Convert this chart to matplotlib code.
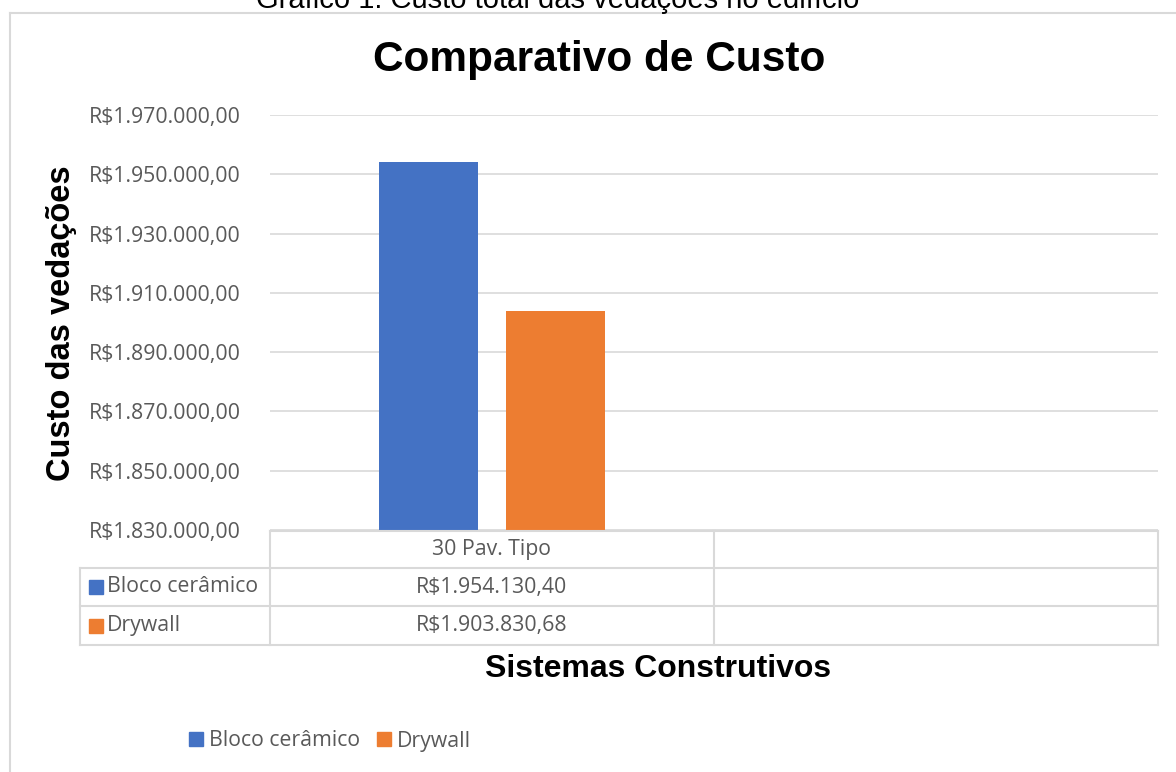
import matplotlib
matplotlib.use("Agg")
import matplotlib.pyplot as plt
from matplotlib.lines import Line2D
from matplotlib.patches import Rectangle
from matplotlib.transforms import blended_transform_factory

# --- data ---
categories = ["30 Pav. Tipo", ""]
series_names = ["Bloco cerâmico", "Drywall"]
bloco_ceramico = [1954130.40, None]
drywall = [1903830.68, None]
series_values = [bloco_ceramico, drywall]
series_colors = ["#4472C4", "#ED7D31"]
y_ticks = [1830000, 1850000, 1870000, 1890000, 1910000, 1930000, 1950000, 1970000]

caption = "Gráfico 1: Custo total das vedações no edifício"
title = "Comparativo de Custo"
x_title = "Sistemas Construtivos"
y_title = "Custo das vedações"


def brl(v):
    s = f"{v:,.2f}"
    s = s.replace(",", "#").replace(".", ",").replace("#", ".")
    return "R$" + s


W, H = 1176, 772
fig = plt.figure(figsize=(W / 100, H / 100), dpi=100)
fig.patch.set_facecolor("white")

TXT = "#595959"
GRID = "#D9D9D9"
LAB_FONT = ["Open Sans", "DejaVu Sans"]
HEAD_FONT = ["Liberation Sans", "DejaVu Sans"]
LAB_SIZE = 15.3


def fx(px):
    return px / W


def fy(py):
    return 1 - py / H


# plot area
left, right, top, bottom = 270, 1158, 115, 530
ax = fig.add_axes([fx(left), fy(bottom), fx(right - left), (bottom - top) / H])
ax.set_facecolor("white")

n_cat = len(categories)
bar_w = 0.225
offsets = [-0.143, 0.143]
for vals, off, col in zip(series_values, offsets, series_colors):
    xs = [i + off for i, v in enumerate(vals) if v is not None]
    hs = [v for v in vals if v is not None]
    ax.bar(xs, hs, width=bar_w, color=col, zorder=3)

ax.set_xlim(-0.5, n_cat - 0.5)
ax.set_ylim(y_ticks[0], y_ticks[-1])
ax.set_yticks(y_ticks)
ax.set_yticklabels([brl(t) for t in y_ticks], family=LAB_FONT, fontsize=LAB_SIZE, color=TXT)
ax.tick_params(axis="y", length=0, pad=21)
ax.set_xticks([])
ax.grid(axis="y", color=GRID, lw=1.2, zorder=0)
for s in ax.spines.values():
    s.set_visible(False)

# data table under the plot
tr = blended_transform_factory(ax.transData, fig.transFigure)
row_y = [531, 568, 606, 645]
tbl_left = 80
lw = 1.5
# horizontal rules
fig.add_artist(Line2D([fx(left), fx(right)], [fy(row_y[0])] * 2, color=GRID, lw=lw))
for yy in row_y[1:]:
    fig.add_artist(Line2D([fx(tbl_left), fx(right)], [fy(yy)] * 2, color=GRID, lw=lw))
# vertical rules
fig.add_artist(Line2D([fx(tbl_left)] * 2, [fy(row_y[1]), fy(row_y[3])], color=GRID, lw=lw))
for b in range(n_cat + 1):
    xb = b - 0.5
    fig.add_artist(Line2D([xb, xb], [fy(row_y[0]), fy(row_y[3])], color=GRID, lw=lw,
                          transform=tr, clip_on=False))

# header row
for i, c in enumerate(categories):
    fig.text(i, fy((row_y[0] + row_y[1]) / 2), c, transform=tr, ha="center", va="center",
             family=LAB_FONT, fontsize=LAB_SIZE, color=TXT)
# series rows
sq = 14
for r, (name, vals, col) in enumerate(zip(series_names, series_values, series_colors)):
    yc = (row_y[r + 1] + row_y[r + 2]) / 2
    fig.add_artist(Rectangle((fx(89), fy(yc + sq / 2)), fx(sq), sq / H, color=col))
    fig.text(fx(107), fy(yc), name, ha="left", va="center",
             family=LAB_FONT, fontsize=LAB_SIZE, color=TXT)
    for i, v in enumerate(vals):
        if v is not None:
            fig.text(i, fy(yc), brl(v), transform=tr, ha="center", va="center",
                     family=LAB_FONT, fontsize=LAB_SIZE, color=TXT)

# titles
fig.text(fx(599), fy(60), title, ha="center", va="center", family=HEAD_FONT,
         fontsize=30.5, fontweight="bold", color="black")
fig.text(fx(658), fy(669), x_title, ha="center", va="center", family=HEAD_FONT,
         fontsize=23, fontweight="bold", color="black")
fig.text(fx(62), fy(323), y_title, ha="center", va="center", rotation=90,
         family=HEAD_FONT, fontsize=23.5, fontweight="bold", color="black")
fig.text(fx(558), fy(8), caption, ha="center", va="baseline", family=HEAD_FONT,
         fontsize=21, color="black")

# chart frame
fig.add_artist(Line2D([fx(10), 1.0], [fy(13)] * 2, color=GRID, lw=1.5))
fig.add_artist(Line2D([fx(10)] * 2, [fy(13), 0.0], color=GRID, lw=1.5))

# legend
handles = [Rectangle((0, 0), 1, 1, color=c) for c in series_colors]
leg = fig.legend(handles, series_names, loc="center", bbox_to_anchor=(fx(330), fy(741)),
                 ncol=2, frameon=False, handlelength=0.65, handleheight=0.65,
                 handletextpad=0.3, columnspacing=0.8,
                 prop={"family": LAB_FONT, "size": LAB_SIZE})
for t in leg.get_texts():
    t.set_color(TXT)

fig.savefig("out.png", dpi=100, facecolor="white")
